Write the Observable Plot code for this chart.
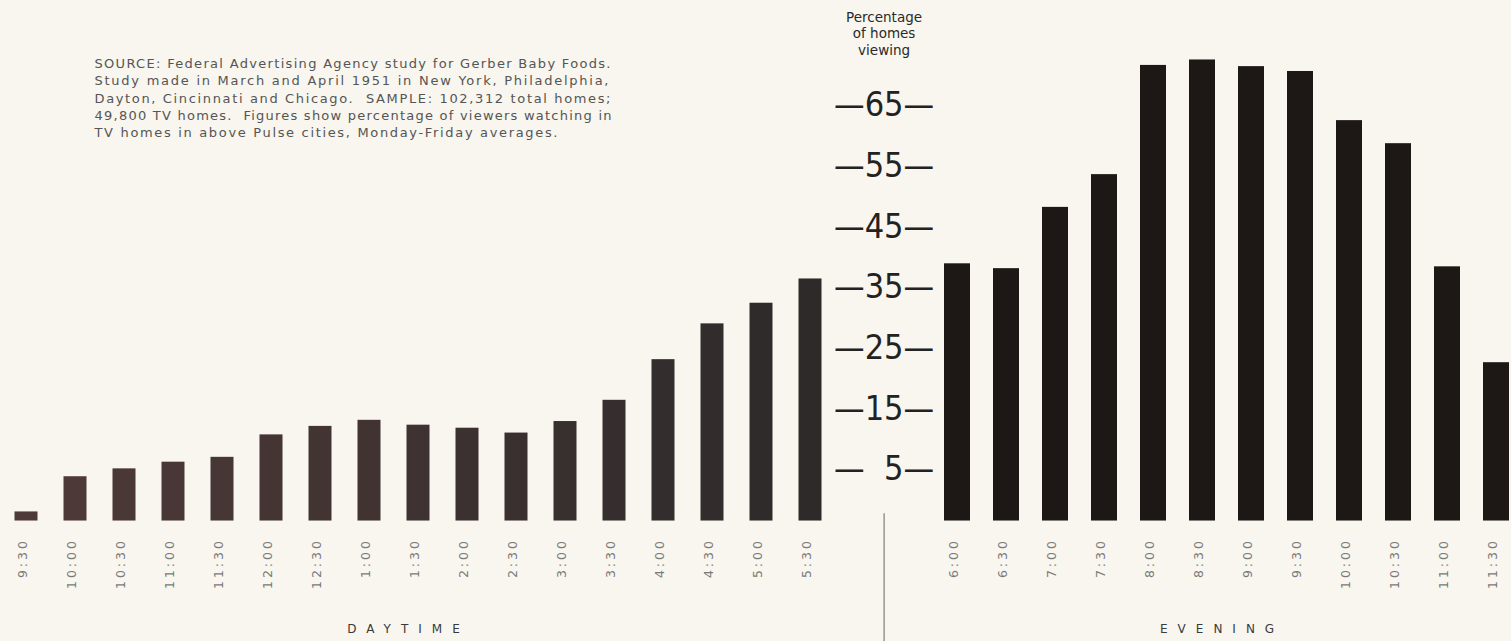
<!DOCTYPE html>
<html>
<head>
<meta charset="utf-8">
<script src="https://cdn.jsdelivr.net/npm/d3@7"></script>
<script src="https://cdn.jsdelivr.net/npm/@observablehq/plot@0.6"></script>
<style>
  html, body { margin: 0; padding: 0; background: #f8f6ee; overflow: hidden; }
  #chart svg { display: block; }
</style>
</head>
<body>
<div id="chart"></div>
<script>
// ---- data ----
const dayTimes = ["9:30","10:00","10:30","11:00","11:30","12:00","12:30","1:00","1:30","2:00","2:30","3:00","3:30","4:00","4:30","5:00","5:30"];
const dayValues = [-1.5, 4.3, 5.6, 6.7, 7.5, 11.2, 12.6, 13.6, 12.8, 12.3, 11.5, 13.4, 16.9, 23.6, 29.5, 32.9, 36.9];
const eveningTimes = ["6:00","6:30","7:00","7:30","8:00","8:30","9:00","9:30","10:00","10:30","11:00","11:30"];
const eveningValues = [39.4, 38.6, 48.7, 54.1, 72.1, 73.0, 71.9, 71.1, 63.0, 59.2, 38.9, 23.1];
const yTicks = [5, 15, 25, 35, 45, 55, 65];
const baseline = -3;   // where the bars stand, as read on the printed scale
const yTop = 75;
const periodTitles = ["DAYTIME", "EVENING"];
const yAxisTitle = ["Percentage", "of homes", "viewing"];
const sourceLines = [
  "SOURCE: Federal Advertising Agency study for Gerber Baby Foods.",
  "Study made in March and April 1951 in New York, Philadelphia,",
  "Dayton, Cincinnati and Chicago.  SAMPLE: 102,312 total homes;",
  "49,800 TV homes.  Figures show percentage of viewers watching in",
  "TV homes in above Pulse cities, Monday-Friday averages."
];

// ---- layout ----
const W = 1511, H = 641;
const mL = 10, mR = 0, mT = 47.33, mB = 120.47;
const gapSlots = 2;
const barPadding = 0.47;
const nSlots = dayTimes.length + gapSlots + eveningTimes.length;
const step = (W - mL - mR) / (nSlots - barPadding);
const axisSlot = dayTimes.length;
const eveStart = dayTimes.length + gapSlots;

const dayRows = dayTimes.map((t, i) => ({time: t, value: dayValues[i], slot: i}));
const eveRows = eveningTimes.map((t, j) => ({time: t, value: eveningValues[j], slot: eveStart + j}));
const allRows = dayRows.concat(eveRows);
const dayMidSlot = Math.floor((dayTimes.length - 1) / 2);
const eveMidSlot = eveStart + Math.floor((eveningTimes.length - 1) / 2);
const narrow = "'Liberation Sans Narrow', 'DejaVu Sans Condensed', 'Roboto Condensed', 'Arial Narrow', sans-serif";
const pxPerUnit = (H - mB - mT) / (yTop - baseline);

const chart = Plot.plot({
  width: W,
  height: H,
  marginLeft: mL, marginRight: mR, marginTop: mT, marginBottom: mB,
  style: {background: "transparent", fontFamily: "'DejaVu Sans', sans-serif", overflow: "visible"},
  x: {type: "band", domain: d3.range(nSlots), paddingInner: barPadding, paddingOuter: 0, axis: null},
  y: {domain: [baseline, yTop], axis: null},
  color: {type: "linear", domain: [0, dayTimes.length - 1], range: ["#4e3a39", "#2e2a2a"]},
  marks: [
    Plot.barY(dayRows, {x: "slot", y1: baseline, y2: "value", fill: "slot", insetLeft: 1.5, insetRight: 1.5}),
    Plot.barY(eveRows, {x: "slot", y1: baseline, y2: "value", fill: "#1d1716"}),
    Plot.ruleX([axisSlot], {x: d => d, dx: step / 2, stroke: "#666", strokeWidth: 1,
      insetTop: (H - mB - mT) - 1.2 * pxPerUnit, insetBottom: -mB}),
    Plot.text(allRows, {x: "slot", text: "time", frameAnchor: "bottom", rotate: -90, textAnchor: "end",
      dy: 17, fontSize: 12.5, fill: "#7a7a7a"}),
    Plot.text(yTicks, {x: () => axisSlot, y: d => d, dx: step / 2, dy: -3,
      text: d => "\u2014" + String(d).padStart(2, "\u2007") + "\u2014",
      fontSize: 34, fontFamily: narrow, fill: "#222"}),
    Plot.text([yAxisTitle.join("\n")], {x: () => axisSlot, dx: step / 2, frameAnchor: "top",
      lineAnchor: "top", dy: -38, fontSize: 13.5, lineHeight: 1.24, fontWeight: 500, fill: "#2a2a2a"}),
    Plot.text([sourceLines.join("\n")], {frameAnchor: "top-left", textAnchor: "start", lineAnchor: "top",
      dx: 84, dy: 8, fontSize: 13, lineHeight: 17.3 / 13, fill: "#555"}),
    Plot.text([periodTitles[0]], {x: () => dayMidSlot, text: d => d, frameAnchor: "bottom", dy: 112, dx: -10,
      fontSize: 12, fill: "#3a3a3a"}),
    Plot.text([periodTitles[1]], {x: () => eveMidSlot, text: d => d, frameAnchor: "bottom", dy: 112, dx: step / 2 - 5,
      fontSize: 12, fill: "#3a3a3a"})
  ]
});

// typographic finishing: letter spacing and justified note lines
const noteLengths = [516, 514, 516, 517, 463];
d3.select(chart).selectAll("text").each(function () {
  const t = this.textContent;
  if (/^\d{1,2}:\d\d$/.test(t)) this.style.letterSpacing = "3px";
  else if (periodTitles.includes(t)) this.style.letterSpacing = "10px";
  else if (t.startsWith("SOURCE:")) {
    d3.select(this).selectAll("tspan").each(function (_, i) {
      this.setAttribute("textLength", noteLengths[i]);
      this.setAttribute("lengthAdjust", "spacing");
    });
  }
});
document.getElementById("chart").appendChild(chart);
</script>
</body>
</html>
